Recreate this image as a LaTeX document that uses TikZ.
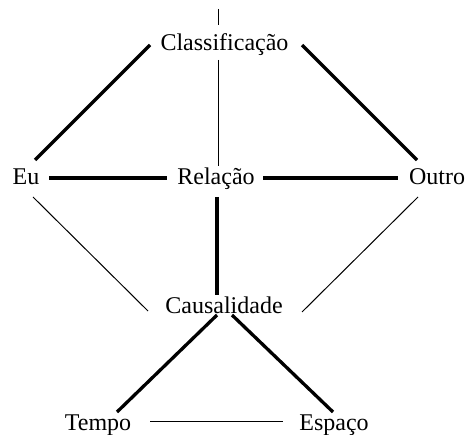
\documentclass[tikz,border=0pt]{standalone}
\usepackage{fontspec}
\setmainfont{Liberation Serif}
\begin{document}
\begin{tikzpicture}[x=1pt,y=-1pt,
  lbl/.style={anchor=base,inner sep=0pt,font=\fontsize{24}{28}\selectfont},
  thickln/.style={line width=3.3pt},
  thinln/.style={line width=1pt}]
\useasboundingbox (0,0) rectangle (470,435);
% labels
\node[lbl] (cls) at (224.5,51) {Classificação};
\node[lbl] (eu)  at (26,185) {Eu};
\node[lbl] (rel) at (216,185) {Relação};
\node[lbl] (out) at (437,185) {Outro};
\node[lbl] (cau) at (224,313) {Causalidade};
\node[lbl] (tem) at (98,430) {Tempo};
\node[lbl] (esp) at (334,430) {Espaço};
% connector end points
\coordinate (t1) at (218,9);
\coordinate (t2) at (218,25);
\coordinate (clsS) at (218,60);
\coordinate (relN) at (218,166);
\coordinate (clsW) at (150,45);
\coordinate (euN) at (35,160);
\coordinate (clsE) at (302,45);
\coordinate (outN) at (417,160);
\coordinate (euE) at (49,178);
\coordinate (relW) at (167,178);
\coordinate (relE) at (263,178);
\coordinate (outW) at (398,178);
\coordinate (relS) at (217,197);
\coordinate (cauN) at (217,295);
\coordinate (euS) at (33,197);
\coordinate (cauW) at (148,311);
\coordinate (outS) at (418,197);
\coordinate (cauE) at (302,312);
\coordinate (cauL) at (217,315);
\coordinate (temN) at (117,412);
\coordinate (cauR) at (232,315);
\coordinate (espN) at (333,412);
\coordinate (temE) at (150,421);
\coordinate (espW) at (283,421);
% connectors
\draw[thinln] (t1) -- (t2);
\draw[thinln] (clsS) -- (relN);
\draw[thickln] (clsW) -- (euN);
\draw[thickln] (clsE) -- (outN);
\draw[thickln] (euE) -- (relW);
\draw[thickln] (relE) -- (outW);
\draw[thickln] (relS) -- (cauN);
\draw[thinln] (euS) -- (cauW);
\draw[thinln] (outS) -- (cauE);
\draw[thickln] (cauL) -- (temN);
\draw[thickln] (cauR) -- (espN);
\draw[thinln] (temE) -- (espW);
\end{tikzpicture}
\end{document}
